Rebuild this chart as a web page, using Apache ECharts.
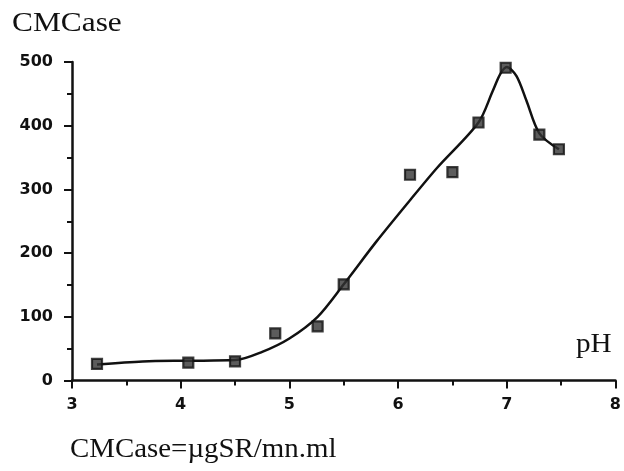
<!DOCTYPE html>
<html>
<head>
<meta charset="utf-8">
<script src="https://cdn.jsdelivr.net/npm/echarts@6/dist/echarts.min.js"></script>
<style>
html,body{margin:0;padding:0;background:#fff;}
#chart{width:624px;height:471px;}
</style>
</head>
<body>
<div id="chart"></div>
<script>
// Measured points (pH, CMCase)
var phPoints = [3.23, 4.07, 4.5, 4.87, 5.26, 5.5, 6.11, 6.5, 6.74, 6.99, 7.3, 7.48];
var cmcasePoints = [26, 28, 30, 74, 85, 151, 323, 327, 405, 491, 386, 363];

// Fitted curve
var curvePh = [3.23, 3.65, 4.07, 4.5, 4.75, 5.0, 5.26, 5.5, 5.8, 6.11, 6.36, 6.74, 6.87, 6.94, 7.0, 7.09, 7.18, 7.3, 7.48];
var curveVal = [25, 30, 31, 32, 45, 66, 100, 151, 218, 283, 334, 405, 454, 481, 492, 478, 440, 388, 363];

// Axis ticks
var xTicks = [3, 4, 5, 6, 7, 8];
var yTicks = [0, 100, 200, 300, 400, 500];

var titleText = 'CMCase';
var xName = 'pH';
var noteText = 'CMCase=\u00b5gSR/mn.ml';

var chart = echarts.init(document.getElementById('chart'), null, {renderer: 'canvas'});

function pairs(xs, ys) {
  var out = [];
  for (var i = 0; i < xs.length; i++) out.push([xs[i], ys[i]]);
  return out;
}

var labelStyle = {
  fontFamily: 'DejaVu Sans',
  fontWeight: 'bold',
  fontSize: 16,
  color: '#111'
};

var serif = 'Liberation Serif';

chart.setOption({
  backgroundColor: '#fff',
  animation: false,
  grid: {left: 72, right: 7, top: 62, bottom: 90.5, containLabel: false},
  xAxis: {
    type: 'value',
    min: xTicks[0],
    max: xTicks[xTicks.length - 1],
    interval: 1,
    axisLine: {show: true, lineStyle: {color: '#111', width: 2.5}},
    axisTick: {show: true, inside: false, length: 8, lineStyle: {color: '#111', width: 2}},
    minorTick: {show: true, splitNumber: 2, length: 5, lineStyle: {color: '#111', width: 2}},
    splitLine: {show: false},
    axisLabel: Object.assign({margin: 16}, labelStyle)
  },
  yAxis: {
    type: 'value',
    min: yTicks[0],
    max: yTicks[yTicks.length - 1],
    interval: 100,
    axisLine: {show: true, onZero: false, lineStyle: {color: '#111', width: 2.5}},
    axisTick: {show: true, inside: false, length: 8, lineStyle: {color: '#111', width: 2}},
    minorTick: {show: true, splitNumber: 2, length: 5, lineStyle: {color: '#111', width: 2}},
    splitLine: {show: false},
    axisLabel: Object.assign({margin: 19}, labelStyle)
  },
  graphic: [
    {type: 'text', left: 12, top: 10, style: {text: titleText, font: '28px "' + serif + '"', fill: '#111'}, scaleX: 1.12},
    {type: 'text', left: 576, top: 331, style: {text: xName, font: '27px "' + serif + '"', fill: '#111'}, scaleX: 1.08},
    {type: 'text', left: 70, top: 436, style: {text: noteText, font: '27px "' + serif + '"', fill: '#111'}, scaleX: 1.07}
  ],
  series: [
    {
      name: 'fit',
      type: 'line',
      data: pairs(curvePh, curveVal),
      smooth: 0.3,
      showSymbol: false,
      symbol: 'none',
      lineStyle: {color: '#111', width: 2.5},
      z: 2
    },
    {
      name: 'CMCase',
      type: 'scatter',
      data: pairs(phPoints, cmcasePoints),
      symbol: 'rect',
      symbolSize: 10,
      itemStyle: {color: '#333', borderColor: '#111', borderWidth: 2.2},
      z: 3
    }
  ]
});
</script>
</body>
</html>
